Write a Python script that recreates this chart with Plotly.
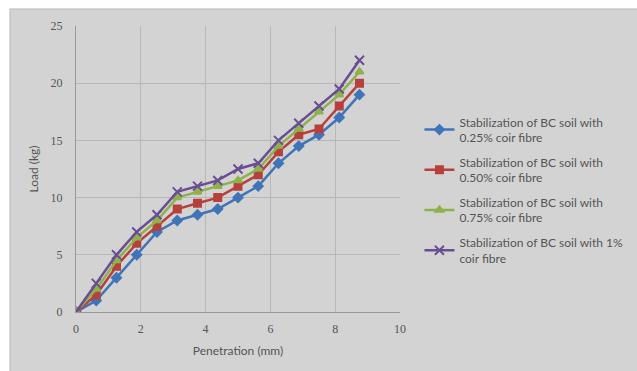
import plotly.graph_objects as go

penetration = [0, 0.625, 1.25, 1.875, 2.5, 3.125, 3.75, 4.375, 5.0, 5.625, 6.25, 6.875, 7.5, 8.125, 8.75]
load_025 = [0, 1, 3, 5, 7, 8, 8.5, 9, 10, 11, 13, 14.5, 15.5, 17, 19]
load_050 = [0, 1.5, 4, 6, 7.5, 9, 9.5, 10, 11, 12, 14, 15.5, 16, 18, 20]
load_075 = [0, 2, 4.5, 6.5, 8, 10, 10.5, 11, 11.5, 12.5, 14.5, 16, 17.5, 19, 21]
load_100 = [0, 2.5, 5, 7, 8.5, 10.5, 11, 11.5, 12.5, 13, 15, 16.5, 18, 19.5, 22]

names = [
    "Stabilization of BC soil with<br>0.25% coir fibre",
    "Stabilization of BC soil with<br>0.50% coir fibre",
    "Stabilization of BC soil with<br>0.75% coir fibre",
    "Stabilization of BC soil with 1%<br>coir fibre",
]
series = [load_025, load_050, load_075, load_100]
colors = ["#3F75B8", "#B8403C", "#8DB24A", "#6A4E94"]
symbols = ["diamond", "square", "triangle-up", "x-thin"]
sizes = [7, 7, 7, 9]

fig = go.Figure()
for i, (name, ys, c, s, sz) in enumerate(zip(names, series, colors, symbols, sizes)):
    fig.add_trace(go.Scatter(
        x=penetration, y=ys, name=name, mode="lines+markers", legendgroup=f"g{i}",
        line=dict(color=c, width=2.5),
        marker=dict(symbol=s, size=sz, color=c, line=dict(color=c, width=2)),
    ))

bg = "#D3D3D3"
L, R, T, B = 76, 237, 26, 59
W, H = 637, 371
pw, ph = W - L - R, H - T - B

fig.add_shape(type="rect", xref="paper", yref="paper",
              x0=(10 - L) / pw, x1=(W - L) / pw + 0.01,
              y0=-(B + 5) / ph, y1=(H - B - 9) / ph,
              fillcolor=bg, line=dict(color="#B5B5B5", width=1), layer="below")

fig.update_layout(
    width=W, height=H,
    margin=dict(l=L, r=R, t=T, b=B, autoexpand=False),
    paper_bgcolor="white", plot_bgcolor=bg,
    font=dict(family="Lato", color="#555555", size=11),
    showlegend=True,
    legend=dict(x=1.06, y=0.715, xanchor="left", yanchor="top",
                bgcolor="rgba(0,0,0,0)", font=dict(size=12, color="#555555"),
                tracegroupgap=6, itemwidth=30),
    xaxis=dict(range=[0, 10], dtick=2, showgrid=True, gridcolor="#B7B7B7",
               zeroline=False, showline=True, linecolor="#9A9A9A",
               ticks="", ticklabelstandoff=6,
               tickfont=dict(family="Liberation Serif", size=12, color="#555555"),
               title=dict(text="Penetration (mm)", font=dict(size=12, color="#555555"), standoff=11)),
    yaxis=dict(range=[0, 25], dtick=5, showgrid=True, gridcolor="#B7B7B7",
               zeroline=False, showline=True, linecolor="#9A9A9A",
               ticks="", ticklabelstandoff=10,
               tickfont=dict(family="Liberation Serif", size=12, color="#555555"),
               title=dict(text="Load (kg)", font=dict(size=12, color="#555555"), standoff=9)),
)

fig.write_html("out.html")
